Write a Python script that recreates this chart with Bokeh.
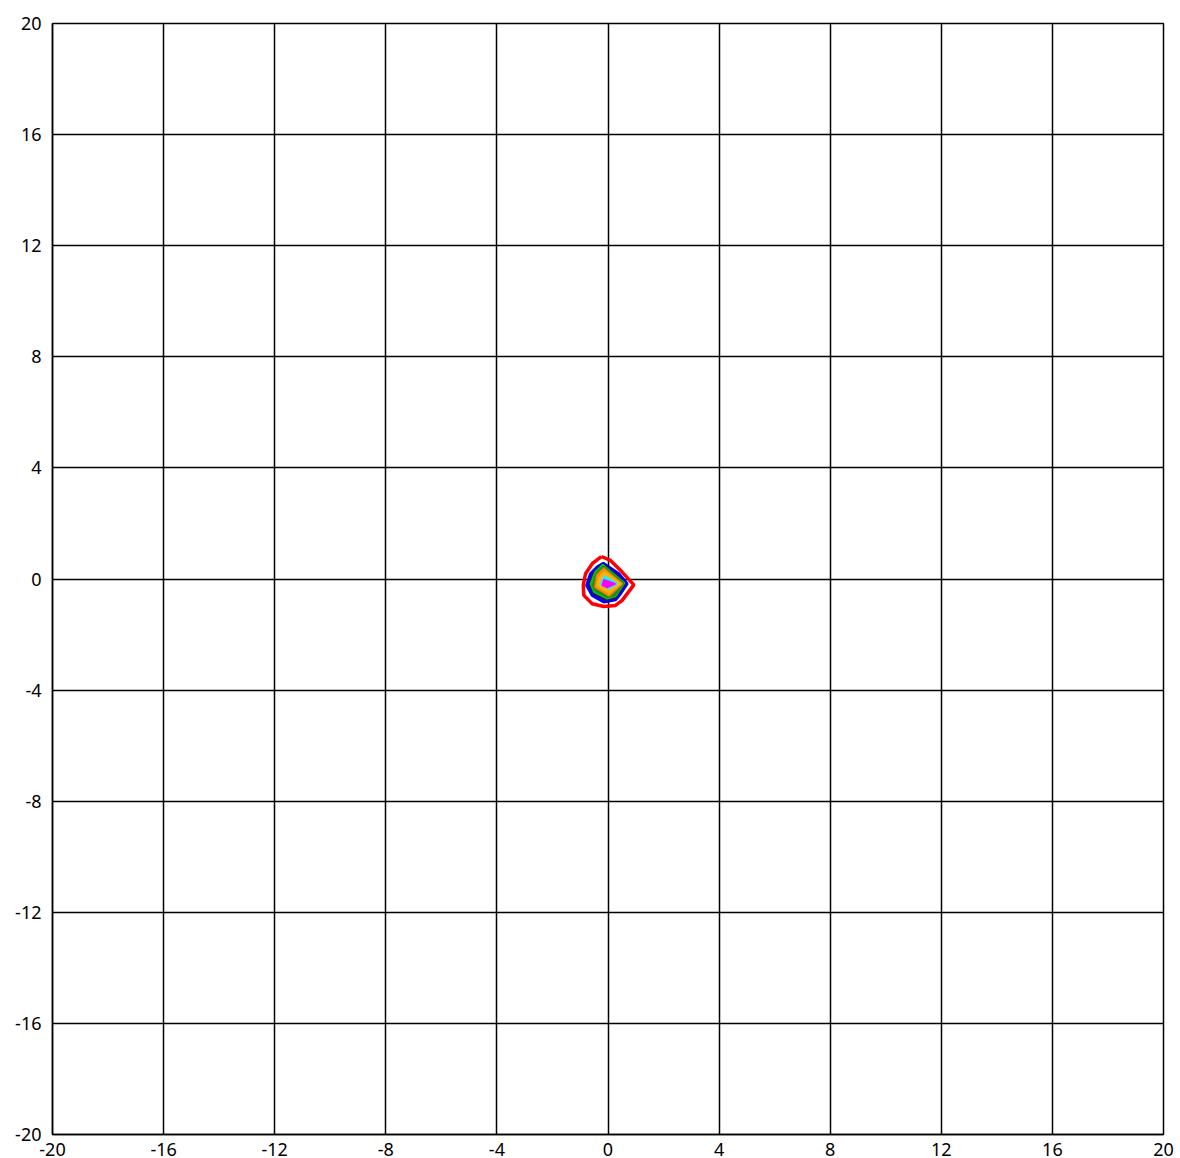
from bokeh.plotting import figure
from bokeh.models import FixedTicker
from bokeh.embed import file_html
from bokeh.resources import INLINE

ticks = [-20, -16, -12, -8, -4, 0, 4, 8, 12, 16, 20]
tick_labels = ["-20", "-16", "-12", "-8", "-4", "0", "4", "8", "12", "16", "20"]

# contour levels, outer to inner: (x list, y list)
red_x = [-0.24, 0.09, 0.51, 0.93, 0.51, 0.27, -0.15, -0.57, -0.87, -0.89, -0.81, -0.57, -0.24]
red_y = [0.81, 0.67, 0.25, -0.21, -0.77, -0.95, -0.99, -0.89, -0.59, -0.23, 0.19, 0.55, 0.81]

blue_x = [-0.17, 0.39, 0.69, 0.45, 0.27, -0.15, -0.57, -0.77, -0.63, -0.39]
blue_y = [0.57, 0.19, -0.17, -0.53, -0.75, -0.83, -0.59, -0.23, 0.19, 0.43]

navy_x = [-0.18, 0.36, 0.64, 0.40, 0.25, -0.10, -0.54, -0.70, -0.56, -0.42]
navy_y = [0.55, 0.15, -0.16, -0.50, -0.72, -0.78, -0.54, -0.20, 0.20, 0.36]

green_x = [-0.19, 0.60, 0.27, -0.03, -0.51, -0.63, -0.47]
green_y = [0.52, -0.15, -0.63, -0.71, -0.47, -0.17, 0.25]

dgreen_x = [-0.17, 0.56, 0.22, -0.01, -0.48, -0.55, -0.43]
dgreen_y = [0.45, -0.16, -0.61, -0.66, -0.40, -0.22, 0.20]

olive_x = [-0.16, 0.53, 0.10, 0.01, -0.46, -0.50, -0.41]
olive_y = [0.41, -0.17, -0.60, -0.62, -0.33, -0.26, 0.16]

orange_x = [-0.15, 0.51, 0.03, -0.45, -0.39]
orange_y = [0.37, -0.17, -0.59, -0.29, 0.13]

gold_x = [-0.11, 0.45, 0.03, -0.39, -0.31]
gold_y = [0.25, -0.17, -0.51, -0.23, 0.09]

lorange_x = [-0.11, 0.39, 0.03, -0.33, -0.29]
lorange_y = [0.17, -0.17, -0.43, -0.20, 0.05]

cyan_x = [-0.11, 0.33, 0.03, -0.27]
cyan_y = [0.09, -0.17, -0.35, -0.17]

mag_x = [-0.15, 0.27, -0.03, -0.21]
mag_y = [-0.03, -0.17, -0.31, -0.23]

p = figure(frame_width=1111, frame_height=1111, x_range=(-20, 20), y_range=(-20, 20),
           output_backend="svg", toolbar_location=None,
           min_border_left=52, min_border_top=23, min_border_right=14, min_border_bottom=24)
p.background_fill_color = "white"
p.border_fill_color = "white"
p.outline_line_color = "black"
p.outline_line_width = 1.5

for ax in (p.xaxis, p.yaxis):
    ax.ticker = FixedTicker(ticks=ticks)
    ax.major_label_overrides = {t: s for t, s in zip(ticks, tick_labels)}
    ax.major_tick_line_color = None
    ax.minor_tick_line_color = None
    ax.axis_line_color = "black"
    ax.axis_line_width = 1.5
    ax.major_label_text_font = "Noto Sans"
    ax.major_label_text_font_size = "18px"
    ax.major_label_text_color = "black"
    ax.major_label_text_line_height = 1.0
p.xaxis.major_label_standoff = 2
p.yaxis.major_label_standoff = 5

for g in (p.xgrid, p.ygrid):
    g.ticker = FixedTicker(ticks=ticks)
    g.grid_line_color = "black"
    g.grid_line_width = 1.5
    g.grid_line_alpha = 1.0

fills = [
    (blue_x, blue_y, "#0000ff", 3.0),
    (navy_x, navy_y, "#2a0a8a", 1.5),
    (green_x, green_y, "#00cc00", 1.5),
    (dgreen_x, dgreen_y, "#1a8a1a", 1.5),
    (olive_x, olive_y, "#9a7a20", 1.5),
    (orange_x, orange_y, "#ff8c00", 1.5),
    (gold_x, gold_y, "#e6c000", 1.5),
    (lorange_x, lorange_y, "#ffaa33", 1.5),
    (cyan_x, cyan_y, "#00ffff", 1.5),
    (mag_x, mag_y, "#ff00ff", 1.5),
]
for xs, ys, c, w in fills:
    p.patch(xs, ys, fill_color=c, line_color=c, line_width=w)

p.line(red_x, red_y, line_color="#ff0000", line_width=3.5)

open("out.html", "w").write(file_html(p, INLINE))
